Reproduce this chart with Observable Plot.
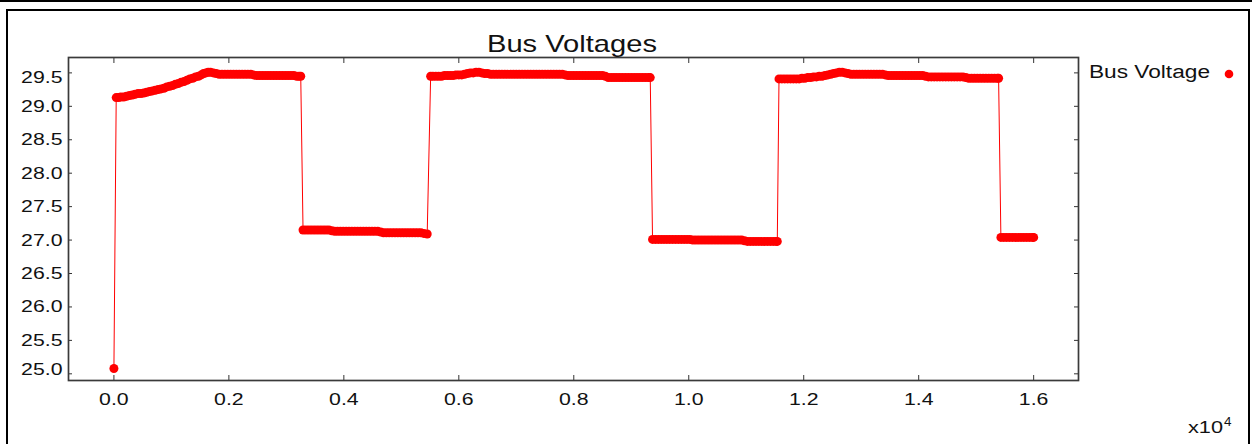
<!DOCTYPE html>
<html>
<head>
<meta charset="utf-8">
<script src="https://cdn.jsdelivr.net/npm/d3@7"></script>
<script src="https://cdn.jsdelivr.net/npm/@observablehq/plot@0.6"></script>
<style>
  html, body { margin: 0; padding: 0; background: #fff; width: 1252px; height: 444px; overflow: hidden; }
  #topbar { position: absolute; left: 0; top: 0; width: 1252px; height: 2px; background: #000; }
  #frame { position: absolute; left: 6px; top: 9px; width: 1244px; height: 480px; border: 2px solid #000; box-sizing: border-box; }
  #chart { position: absolute; left: 0; top: 0; }
  #overlay { position: absolute; left: 0; top: 0; pointer-events: none; }
</style>
</head>
<body>
<div id="topbar"></div>
<div id="frame"></div>
<div id="chart"></div>
<svg id="overlay" width="1252" height="444"></svg>
<script>
// ---- data (time in seconds, bus voltage in volts) ----
const chartTitle = "Bus Voltages";
const seriesName = "Bus Voltage";
const xTicks = [0, 2000, 4000, 6000, 8000, 10000, 12000, 14000, 16000];
const yTicks = [25.0, 25.5, 26.0, 26.5, 27.0, 27.5, 28.0, 28.5, 29.0, 29.5];

const timeSec = [
  0, 40, 80, 120, 170, 220, 270, 320, 370, 420, 470, 520, 570, 620, 670, 720, 770, 820, 870, 920,
  970, 1020, 1070, 1120, 1170, 1220, 1270, 1320, 1370, 1420, 1470, 1520, 1560, 1600, 1640, 1680, 1730, 1780,
  1830, 1880, 1930, 1980, 2030, 2080, 2130, 2180, 2230, 2280, 2330, 2380, 2430,
  2480, 2530, 2580, 2630, 2680, 2730, 2780, 2830, 2880, 2930, 2980, 3030, 3080, 3130, 3180, 3220, 3250,
  3290, 3340, 3390, 3440, 3490, 3540, 3590, 3640, 3690, 3740, 3790,
  3840, 3890, 3940, 3990, 4040, 4090, 4140, 4190, 4240, 4290, 4340, 4390, 4440, 4490, 4540, 4590, 4640,
  4690, 4740, 4790, 4840, 4890, 4940, 4990, 5040, 5090, 5140, 5190, 5240, 5290, 5340, 5390, 5450,
  5510, 5550, 5600, 5650, 5700, 5750, 5800, 5850, 5900, 5950, 6000, 6050, 6100, 6150, 6200, 6250, 6300, 6350, 6400, 6450, 6500, 6550,
  6600, 6650, 6700, 6750, 6800, 6850, 6900, 6950, 7000, 7050, 7100, 7150, 7200,
  7250, 7300, 7350, 7400, 7450, 7500, 7550, 7600, 7650, 7700, 7750, 7800, 7850,
  7900, 7950, 8000, 8050, 8100, 8150, 8200, 8250, 8300, 8350, 8400, 8450, 8500, 8550,
  8600, 8650, 8700, 8750, 8800, 8850, 8900, 8950, 9000, 9050, 9100, 9150, 9200, 9250, 9300, 9330,
  9370, 9420, 9470, 9520, 9570, 9620, 9670, 9720, 9770, 9820, 9870, 9920, 9970, 10020,
  10070, 10120, 10170, 10220, 10270, 10320, 10370, 10420, 10470, 10520, 10570, 10620, 10670, 10720, 10770, 10820, 10870, 10920, 10970,
  11020, 11070, 11120, 11170, 11220, 11270, 11320, 11370, 11420, 11470, 11520, 11540,
  11570, 11620, 11670, 11720, 11770, 11820, 11870, 11920, 11970, 12020, 12070, 12120, 12170, 12220, 12270, 12320, 12370, 12420, 12470, 12520, 12570, 12620, 12670, 12720, 12770,
  12820, 12870, 12920, 12970, 13020, 13070, 13120, 13170, 13220, 13270, 13320, 13370, 13420,
  13470, 13520, 13570, 13620, 13670, 13720, 13770, 13820, 13870, 13920, 13970, 14020, 14070, 14120,
  14170, 14220, 14270, 14320, 14370, 14420, 14470, 14520, 14570, 14620, 14670, 14720, 14770, 14820,
  14870, 14920, 14970, 15020, 15070, 15120, 15170, 15220, 15270, 15320, 15370, 15390,
  15430, 15480, 15530, 15580, 15630, 15680, 15730, 15780, 15830, 15880, 15930, 15980, 16000
];
const busVoltage = [
  25.08, 29.13, 29.13, 29.14, 29.14, 29.15, 29.16, 29.17, 29.18, 29.19, 29.19, 29.20, 29.21, 29.22, 29.23, 29.24, 29.25, 29.26, 29.27, 29.29,
  29.30, 29.31, 29.33, 29.34, 29.36, 29.37, 29.39, 29.41, 29.42, 29.44, 29.45, 29.47, 29.49, 29.50, 29.51, 29.51, 29.50, 29.49,
  29.48, 29.48, 29.48, 29.48, 29.48, 29.48, 29.48, 29.48, 29.48, 29.48, 29.48, 29.48, 29.47,
  29.46, 29.46, 29.46, 29.46, 29.46, 29.46, 29.46, 29.46, 29.46, 29.46, 29.46, 29.46, 29.46, 29.46, 29.45, 29.45, 29.45,
  27.15, 27.15, 27.15, 27.15, 27.15, 27.15, 27.15, 27.15, 27.15, 27.15, 27.14,
  27.13, 27.13, 27.13, 27.13, 27.13, 27.13, 27.13, 27.13, 27.13, 27.13, 27.13, 27.13, 27.13, 27.13, 27.13, 27.13, 27.12,
  27.11, 27.11, 27.11, 27.11, 27.11, 27.11, 27.11, 27.11, 27.11, 27.11, 27.11, 27.11, 27.11, 27.11, 27.10, 27.09,
  29.45, 29.45, 29.45, 29.45, 29.45, 29.46, 29.46, 29.46, 29.46, 29.47, 29.47, 29.47, 29.48, 29.49, 29.50, 29.50, 29.51, 29.51, 29.50, 29.49, 29.49, 29.48,
  29.48, 29.48, 29.48, 29.48, 29.48, 29.48, 29.48, 29.48, 29.48, 29.48, 29.48, 29.48, 29.48,
  29.48, 29.48, 29.48, 29.48, 29.48, 29.48, 29.48, 29.48, 29.48, 29.48, 29.48, 29.48, 29.47,
  29.46, 29.46, 29.46, 29.46, 29.46, 29.46, 29.46, 29.46, 29.46, 29.46, 29.46, 29.46, 29.46, 29.45,
  29.43, 29.43, 29.43, 29.43, 29.43, 29.43, 29.43, 29.43, 29.43, 29.43, 29.43, 29.43, 29.43, 29.43, 29.43, 29.43,
  27.01, 27.01, 27.01, 27.01, 27.01, 27.01, 27.01, 27.01, 27.01, 27.01, 27.01, 27.01, 27.01, 27.01,
  27.00, 27.00, 27.00, 27.00, 27.00, 27.00, 27.00, 27.00, 27.00, 27.00, 27.00, 27.00, 27.00, 27.00, 27.00, 27.00, 27.00, 27.00, 26.99,
  26.98, 26.98, 26.98, 26.98, 26.98, 26.98, 26.98, 26.98, 26.98, 26.98, 26.98, 26.98,
  29.41, 29.41, 29.41, 29.41, 29.41, 29.41, 29.41, 29.41, 29.42, 29.42, 29.43, 29.43, 29.44, 29.44, 29.45, 29.45, 29.46, 29.47, 29.48, 29.49, 29.50, 29.51, 29.51, 29.50, 29.49,
  29.48, 29.48, 29.48, 29.48, 29.48, 29.48, 29.48, 29.48, 29.48, 29.48, 29.48, 29.48, 29.47,
  29.46, 29.46, 29.46, 29.46, 29.46, 29.46, 29.46, 29.46, 29.46, 29.46, 29.46, 29.46, 29.46, 29.45,
  29.44, 29.44, 29.44, 29.44, 29.44, 29.44, 29.44, 29.44, 29.44, 29.44, 29.44, 29.44, 29.44, 29.43,
  29.42, 29.42, 29.42, 29.42, 29.42, 29.42, 29.42, 29.42, 29.42, 29.42, 29.42, 29.42,
  27.04, 27.04, 27.04, 27.04, 27.04, 27.04, 27.04, 27.04, 27.04, 27.04, 27.04, 27.04, 27.04
];
if (timeSec.length !== busVoltage.length) throw new Error("length mismatch " + timeSec.length + " vs " + busVoltage.length);

const data = timeSec.map((t, i) => ({t, v: busVoltage[i]}));
const FONT = "'Liberation Sans', Arial, sans-serif";
const yMid = yTicks.filter(d => d !== 25.0 && d !== 29.5);

const chart = Plot.plot({
  width: 1252,
  height: 444,
  marginLeft: 68,
  marginRight: 174,
  marginTop: 57,
  marginBottom: 64,
  style: {background: "transparent", fontFamily: FONT, fontSize: "17px", color: "#111", overflow: "visible"},
  x: {domain: [-790, 16780], label: null},
  y: {domain: [24.9, 29.73], label: null},
  marks: [
    Plot.axisX({ticks: xTicks, anchor: "bottom", tickSize: 0, tickPadding: 12, label: null, fontSize: 17, tickFormat: d => (d / 10000).toFixed(1)}),
    Plot.axisX({ticks: xTicks, anchor: "bottom", tickSize: -5, label: null, tickFormat: () => "", stroke: "#333"}),
    Plot.axisX({ticks: xTicks, anchor: "top", tickSize: -5, label: null, tickFormat: () => "", stroke: "#333"}),
    Plot.axisY({ticks: yMid, anchor: "left", tickSize: 0, tickPadding: 6, label: null, fontSize: 17, tickFormat: d => d.toFixed(1)}),
    Plot.axisY({ticks: [29.5], anchor: "left", tickSize: 0, tickPadding: 6, label: null, fontSize: 17, dy: 5, tickFormat: d => d.toFixed(1)}),
    Plot.axisY({ticks: [25.0], anchor: "left", tickSize: 0, tickPadding: 6, label: null, fontSize: 17, dy: -4, tickFormat: d => d.toFixed(1)}),
    Plot.axisY({ticks: yTicks, anchor: "left", tickSize: -4, label: null, tickFormat: () => "", stroke: "#333"}),
    Plot.axisY({ticks: yTicks, anchor: "right", tickSize: -5, label: null, tickFormat: () => "", stroke: "#333"}),
    Plot.line(data, {x: "t", y: "v", stroke: "#ff0000", strokeWidth: 1}),
    Plot.dot(data, {x: "t", y: "v", r: 4.5, fill: "#ff0000", stroke: "none"}),
    Plot.frame({stroke: "#3a3a3a", strokeWidth: 1.7})
  ]
});
document.getElementById("chart").append(chart);

// widen axis label glyphs horizontally like the reference rendering
chart.querySelectorAll("text").forEach(t => {
  if (!t.textContent.trim()) return;
  const w = t.getComputedTextLength();
  t.setAttribute("textLength", (w * 1.25).toFixed(1));
  t.setAttribute("lengthAdjust", "spacingAndGlyphs");
});

// title, legend and exponent note
const ov = d3.select("#overlay");
ov.append("text").attr("x", 572).attr("y", 52).attr("text-anchor", "middle")
  .attr("font-family", FONT).attr("font-size", 24).attr("fill", "#111")
  .attr("textLength", 170).attr("lengthAdjust", "spacingAndGlyphs").text(chartTitle);
ov.append("text").attr("x", 1089).attr("y", 78).attr("font-family", FONT).attr("font-size", 18).attr("fill", "#111")
  .attr("textLength", 121).attr("lengthAdjust", "spacingAndGlyphs").text(seriesName);
ov.append("circle").attr("cx", 1229).attr("cy", 74).attr("r", 4.3).attr("fill", "#ff0000");
ov.append("text").attr("x", 1188).attr("y", 433).attr("font-family", FONT).attr("font-size", 17).attr("fill", "#111")
  .attr("textLength", 35).attr("lengthAdjust", "spacingAndGlyphs").text("x10");
ov.append("text").attr("x", 1224).attr("y", 426).attr("font-family", FONT).attr("font-size", 12).attr("fill", "#111")
  .attr("textLength", 7.5).attr("lengthAdjust", "spacingAndGlyphs").text("4");
</script>
</body>
</html>
